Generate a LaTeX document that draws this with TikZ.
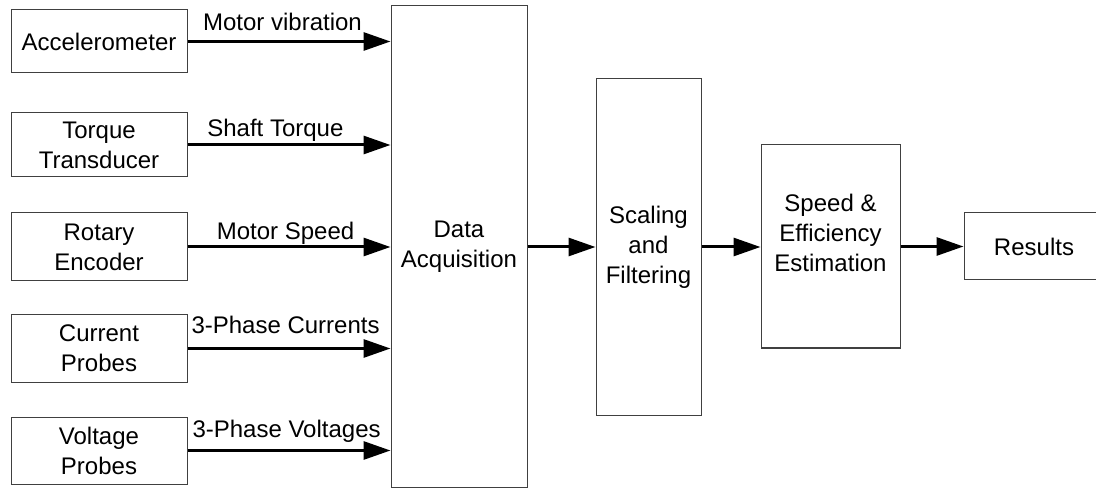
\documentclass[tikz,border=0pt]{standalone}
\usepackage{fontspec}
\setmainfont{Liberation Sans}
\usetikzlibrary{arrows.meta}
\begin{document}
\begin{tikzpicture}[x=1pt,y=-1pt,
  box/.style={draw=black!75, line width=1pt, align=center, inner sep=0pt,
    font=\fontsize{24}{30}\selectfont},
  txt/.style={align=center, inner sep=0pt, font=\fontsize{24}{30}\selectfont},
  arr/.style={line width=3pt, -{Triangle[length=27pt,width=18pt]}},
  lbl/.style={anchor=base, inner sep=0pt, font=\fontsize{24}{30}\selectfont}]
\useasboundingbox (0,0) rectangle (1096,489);
% left boxes
\node[box, minimum width=176pt, minimum height=63pt] (acc) at (99,41.5) {Accelerometer};
\node[box, minimum width=176pt, minimum height=64pt] (tor) at (99,145) {Torque\\Transducer};
\node[box, minimum width=176pt, minimum height=68pt] (rot) at (99,247) {Rotary\\Encoder};
\node[box, minimum width=176pt, minimum height=67pt] (cur) at (99,348.5) {Current\\Probes};
\node[box, minimum width=176pt, minimum height=67pt] (vol) at (99,450.5) {Voltage\\Probes};
% main blocks
\node[box, minimum width=136pt, minimum height=481pt] (daq) at (459,246.5) {Data\\Acquisition};
\node[box, minimum width=105pt, minimum height=336pt] (scl) at (648.5,247) {Scaling\\and\\Filtering};
\node[box, minimum width=139pt, minimum height=203pt] (spd) at (830.5,246.5) {};
\node[txt] (spdt) at ([yshift=14pt]spd.center) {Speed \&\\Efficiency\\Estimation};
\node[box, minimum width=144pt, minimum height=67pt] (res) at (1036,246.5) {};
\node[txt] (rest) at (1034,246.5) {Results};
% input arrows
\draw[arr] (acc.east) -- node[lbl, pos=0.468, yshift=11pt] {Motor vibration} (acc.east -| daq.west);
\draw[arr] (tor.east) -- node[lbl, pos=0.433, yshift=8pt] {Shaft Torque} (tor.east -| daq.west);
\draw[arr] (rot.east) -- node[lbl, pos=0.483, yshift=7pt] {Motor Speed} (rot.east -| daq.west);
\draw[arr] (cur.east) -- node[lbl, pos=0.483, yshift=15pt] {3-Phase Currents} (cur.east -| daq.west);
\draw[arr] (vol.east) -- node[lbl, pos=0.488, yshift=13pt] {3-Phase Voltages} (vol.east -| daq.west);
% chain
\coordinate (c1) at (daq.east |- scl.west);
\draw[arr] (c1) -- (scl.west);
\draw[arr] (scl.east) -- (spd.west |- scl.east);
\draw[arr] (spd.east |- res.west) -- (res.west);
\end{tikzpicture}
\end{document}
